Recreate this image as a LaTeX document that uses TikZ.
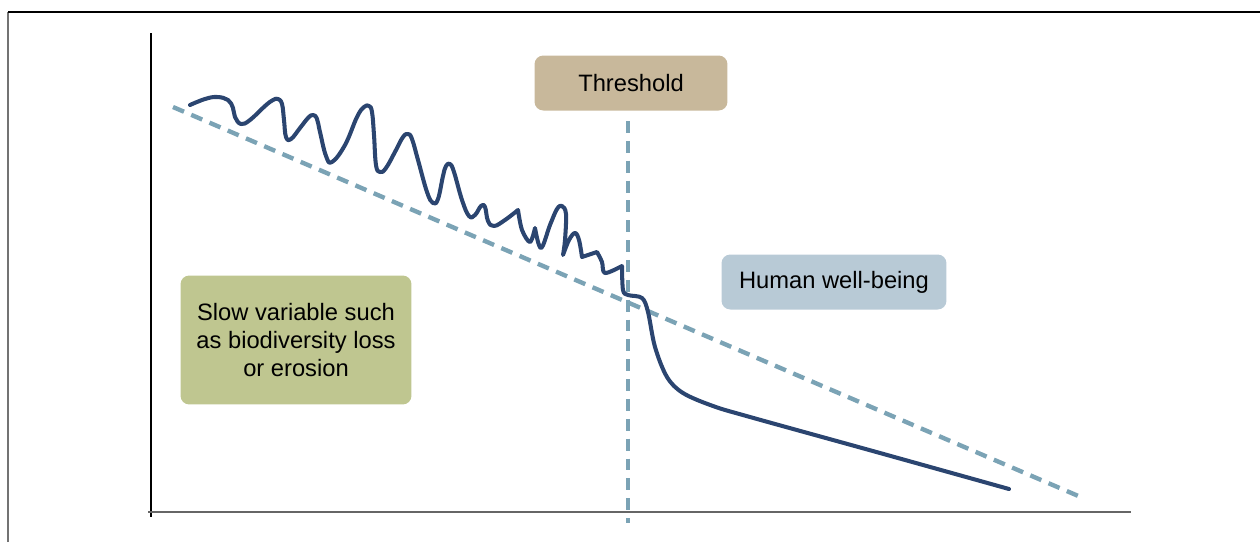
\documentclass[tikz,border=0pt]{standalone}
\usepackage{fontspec}
\setmainfont{Liberation Sans}
\definecolor{curveblue}{HTML}{2B4570}
\definecolor{dashblue}{HTML}{7BA3B5}
\definecolor{tanbox}{HTML}{C8B89B}
\definecolor{greybox}{HTML}{B8CAD6}
\definecolor{olivebox}{HTML}{BFC690}
\begin{document}
\begin{tikzpicture}[x=0.02cm, y=-0.02cm,
    box/.style={rectangle, rounded corners=5pt, inner sep=0pt, font=\fontsize{13.5}{16.2}\selectfont, align=center},
    guide/.style={dashblue, line width=2.5pt, dash pattern=on 6.8pt off 4.5pt},
    wave/.style={curveblue, line width=2.3pt, line join=round, line cap=round}]
    \useasboundingbox (0,0) rectangle (1260,542);
    % frame and axes
    \draw[black!55, line width=0.8pt] (8,542) -- (8,12);
    \draw[black, line width=0.8pt] (8,12) -- (1260,12);
    \coordinate (ytop) at (151,33);
    \coordinate (ybot) at (151,517);
    \coordinate (xleft) at (148,512);
    \coordinate (xright) at (1131,512);
    \draw[black, line width=0.8pt] (ytop) -- (ybot);
    \draw[black!60, line width=0.9pt] (xleft) -- (xright);
    % boxes
    \node[box, fill=tanbox, minimum width=3.86cm, minimum height=1.1cm] (threshold) at (631,83) {Threshold};
    \node[box, fill=greybox, minimum width=4.5cm, minimum height=1.1cm] (wellbeing) at (834,282) {Human well-being};
    \node[box, fill=olivebox, minimum width=4.62cm, minimum height=2.58cm] (slow) at (296,340) {Slow variable such\\as biodiversity loss\\or erosion};
    % guide lines
    \coordinate (tbot) at (628,523);
    \coordinate (dstart) at (173,107);
    \coordinate (dend) at (1083,498);
    \draw[guide] (628,121) -- (tbot);
    \draw[guide] (dstart) -- (dend);
    % well-being curve
    \draw[wave] plot[smooth, tension=0.7] coordinates {(190,105) (205,99) (217,97) (228,100) (233,108) (235,117) (241,124) (250,120) (265,106) (273,100) (278,99) (282,104) (284,120) (286,137) (291,139) (300,128) (308,118) (313,115) (317,119) (320,132) (326,156) (332,162) (345,145) (357,117) (364,107) (369,106) (372,112) (374,135) (376,165) (380,172) (386,168) (396,150) (403,137) (408,134) (412,139) (418,160) (427,192) (433,203) (438,199) (443,176) (446,166) (450,164) (454,172) (462,200) (469,216) (475,215) (481,206) (485,207) (488,221) (494,226) (505,220) (518,210)}
      -- plot[smooth, tension=0.55] coordinates {(518,210) (522,230) (530,242) (535,228)}
      -- plot[smooth, tension=0.6] coordinates {(535,228) (541,248) (550,225) (557,209) (562,206) (566,214) (565,240) (563,255)}
      -- plot[smooth, tension=0.6] coordinates {(563,255) (569,240) (575,233) (579,240) (582,257)}
      -- plot[smooth, tension=0.55] coordinates {(582,257) (597,252)}
      -- plot[smooth, tension=0.55] coordinates {(597,252) (602,262) (605,273) (622,266)}
      -- plot[smooth, tension=0.55] coordinates {(622,266) (623,290) (628,295) (642,298) (648,312) (655,347) (667,377) (683,393) (713,406) (750,417) (880,453) (1009,489)};
  \end{tikzpicture}
\end{document}
